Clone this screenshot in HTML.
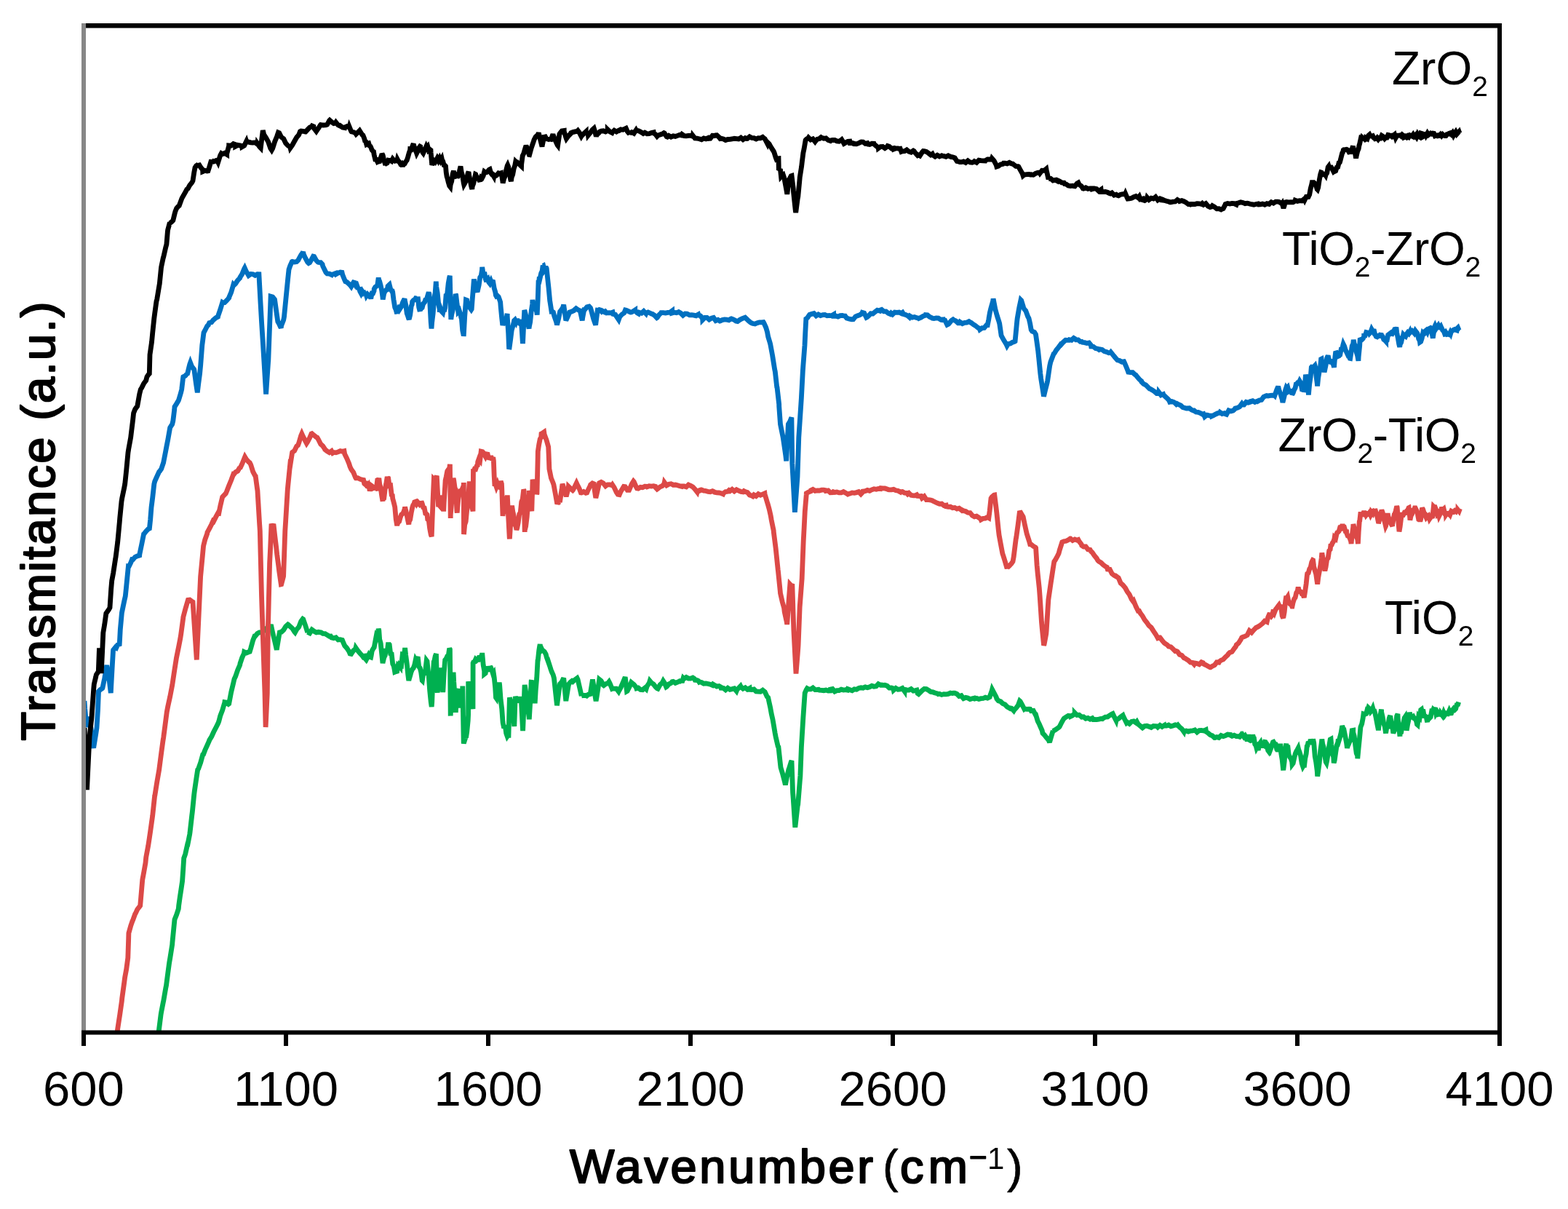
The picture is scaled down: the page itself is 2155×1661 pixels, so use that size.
<!DOCTYPE html>
<html><head><meta charset="utf-8"><style>html,body{margin:0;padding:0;background:#fff;}svg{display:block;}</style></head>
<body><svg width="2155" height="1661" viewBox="0 0 2155 1661">
<rect width="2155" height="1661" fill="#fff"/>
<g clip-path="url(#pc)">
<polyline points="218.0,1419.0 218.7,1413.0 221.1,1393.9 221.7,1390.3 224.3,1377.0 224.7,1375.3 227.7,1357.9 228.5,1353.9 230.7,1337.1 232.7,1322.3 233.7,1316.7 236.7,1297.7 236.9,1294.9 239.7,1266.3 240.0,1263.3 242.7,1256.5 245.3,1248.5 245.7,1244.0 247.4,1231.7 248.7,1223.4 250.6,1210.6 251.7,1194.7 252.7,1179.0 254.7,1173.3 257.7,1160.0 258.0,1160.0 260.7,1146.3 261.1,1143.2 263.7,1120.5 264.3,1115.8 266.7,1091.8 267.4,1086.3 269.7,1070.6 271.7,1057.5 272.7,1056.2 275.7,1047.7 278.7,1036.8 279.6,1036.3 281.7,1030.7 284.7,1024.1 287.6,1017.6 287.7,1016.9 290.7,1012.2 293.7,1005.5 296.7,999.7 299.7,993.9 300.8,991.0 302.7,983.6 305.7,975.7 308.7,965.4 308.8,964.8 311.7,965.3 314.0,967.4 314.7,966.9 317.7,950.9 320.7,938.5 322.0,932.8 323.7,929.3 326.7,920.4 329.7,913.6 330.0,911.6 332.7,903.6 335.3,898.0 335.7,895.7 338.7,897.0 341.7,895.8 343.2,895.3 344.7,890.5 347.7,879.7 349.9,874.1 350.7,874.1 353.7,870.4 356.5,868.8 356.7,868.8 359.7,868.8 362.7,866.6 365.7,863.6 368.7,862.0 371.7,859.9 372.4,858.2 374.7,869.1 377.7,881.3 380.3,892.7 380.7,890.0 383.7,872.0 384.3,868.8 386.7,868.3 389.7,865.5 392.7,860.6 395.7,857.9 396.2,858.2 398.7,860.7 401.7,863.2 404.7,867.9 405.5,868.8 407.7,864.8 410.7,861.4 413.7,853.6 416.1,850.3 416.7,850.7 419.7,859.2 422.7,868.8 422.7,868.4 425.7,869.9 428.7,865.1 431.7,867.3 434.7,868.9 437.7,868.3 440.7,868.8 441.3,868.8 443.7,870.3 446.7,870.5 449.7,872.3 452.7,874.2 454.5,874.1 455.7,876.0 458.7,876.7 461.7,875.9 464.7,879.0 467.7,878.7 470.4,879.4 470.7,880.2 473.7,887.1 476.7,890.4 479.7,895.0 481.0,898.0 482.7,898.4 485.7,893.8 488.7,891.3 489.0,890.0 491.7,893.9 494.7,897.5 497.7,900.6 499.6,903.3 500.7,903.2 502.2,905.0 503.7,898.4 505.2,902.8 506.7,899.8 508.2,902.3 509.7,902.9 510.2,900.6 511.2,894.4 512.7,891.4 514.2,889.3 515.7,881.3 517.2,873.5 518.7,875.5 520.2,864.0 520.8,866.2 521.7,878.4 523.2,883.9 524.7,898.7 526.0,911.2 526.2,910.0 527.7,903.6 529.2,900.5 530.7,891.2 532.2,895.1 533.7,882.7 534.0,884.7 535.2,885.7 536.7,898.0 538.2,898.5 539.7,912.1 541.2,915.1 542.0,919.2 542.7,923.3 544.2,922.7 545.7,922.3 547.2,913.8 548.7,914.9 550.0,916.5 550.2,912.8 551.7,913.7 553.2,899.2 554.7,899.7 556.2,894.4 556.6,890.0 557.7,900.1 559.2,911.3 560.7,926.7 561.8,935.0 562.2,933.2 563.7,928.4 565.2,922.9 566.7,919.4 568.2,917.9 569.7,913.6 571.2,906.6 572.7,909.3 573.8,903.3 574.2,902.5 575.7,916.0 577.2,917.7 578.7,923.7 580.2,934.8 580.4,935.0 581.7,926.1 583.2,925.4 584.7,921.0 586.2,907.5 587.0,908.6 587.7,915.7 589.2,928.6 590.7,949.2 592.2,964.1 593.2,971.0 593.7,964.8 595.2,925.9 596.3,907.8 596.7,908.8 598.2,901.6 599.5,898.4 599.7,907.8 601.0,950.4 601.2,951.2 602.7,942.9 604.2,926.9 605.7,921.4 605.8,917.3 607.2,933.0 608.7,950.9 608.9,948.9 610.2,924.7 611.3,911.0 611.7,906.6 613.2,905.0 614.7,901.7 616.2,901.1 617.7,890.7 618.4,892.1 619.2,983.6 619.2,982.6 620.7,959.5 622.2,934.4 623.1,923.6 623.7,936.5 625.2,957.7 626.3,978.8 626.7,971.6 628.2,960.1 629.4,947.3 629.7,946.7 631.2,958.2 632.6,972.5 632.7,969.6 634.2,955.6 635.7,946.9 635.8,942.6 637.2,1020.0 637.3,1021.4 638.7,1016.7 640.2,1012.3 640.5,1013.6 641.7,1005.6 643.2,990.2 643.6,982.0 643.7,936.2 644.7,943.0 646.2,951.6 647.7,963.8 649.2,968.1 650.0,974.1 650.1,911.0 650.7,909.7 652.2,909.2 653.7,905.8 655.2,907.3 656.3,906.3 656.7,908.7 658.2,903.4 659.7,903.3 661.2,903.9 662.6,898.4 662.7,897.0 664.2,913.7 665.7,922.0 665.7,926.0 667.2,924.8 668.7,915.7 670.2,920.3 671.7,920.0 673.2,919.8 673.6,915.7 674.7,917.4 676.2,921.3 677.7,926.3 678.4,925.2 679.2,930.6 680.7,945.5 681.5,958.3 682.2,959.3 683.7,951.0 685.2,945.5 686.2,937.8 686.7,941.7 688.2,961.7 689.7,973.6 691.0,991.5 691.2,993.2 692.7,1000.4 694.2,996.2 695.7,1007.5 697.2,1011.7 698.7,1009.6 698.9,1013.6 700.2,964.6 700.4,958.3 701.7,963.0 703.2,975.3 704.7,980.7 706.2,991.6 706.8,997.8 707.7,971.4 708.3,956.8 709.2,960.6 710.7,962.3 712.2,962.6 713.7,957.9 715.2,962.1 716.2,963.1 716.7,968.0 718.2,997.5 718.6,1004.1 719.7,978.4 721.0,942.6 721.2,941.1 722.7,950.6 724.2,968.8 725.7,974.7 727.2,985.7 727.3,988.3 728.7,965.0 730.2,935.3 730.4,934.7 731.7,947.5 733.2,949.0 734.7,958.4 735.2,966.2 736.2,949.0 737.7,931.4 739.1,906.3 739.2,908.1 740.7,894.0 741.5,888.9 742.2,885.2 743.7,894.0 745.1,892.7 745.2,892.9 748.2,895.2 750.2,898.8 751.2,902.8 754.2,911.2 754.3,911.0 757.2,920.1 758.4,923.3 760.2,927.1 761.4,931.5 763.2,948.2 765.5,969.2 766.2,963.9 769.2,941.7 769.6,939.6 772.2,936.8 774.7,931.5 775.2,936.4 777.8,963.1 778.2,960.3 781.2,942.1 781.9,939.6 784.2,936.9 786.0,935.5 787.2,936.5 790.2,933.8 793.2,931.6 794.1,933.5 796.2,942.7 799.2,956.0 799.2,955.9 802.2,955.4 805.2,955.5 806.4,956.0 808.2,954.4 811.2,953.6 811.5,951.9 814.2,935.4 814.5,933.5 817.2,951.8 819.1,963.1 820.2,956.8 823.2,937.2 823.7,933.5 826.2,935.5 829.2,941.2 829.8,941.7 832.2,939.8 835.2,938.8 837.0,936.6 838.2,938.9 841.2,946.2 842.1,945.8 844.2,946.2 847.2,946.1 850.2,950.0 850.3,949.8 853.2,944.4 856.2,937.5 859.2,930.4 859.4,931.5 861.5,949.8 862.2,949.4 865.2,943.3 867.6,937.6 868.2,938.1 871.2,940.5 874.2,944.1 874.8,945.8 877.2,945.1 880.2,947.4 883.2,947.7 886.2,945.2 888.0,946.8 889.2,943.0 892.2,938.4 893.1,935.5 895.2,938.0 898.2,940.1 901.2,943.9 903.3,945.8 904.2,946.2 907.2,940.6 910.2,938.1 911.5,935.5 913.2,938.1 915.6,943.7 916.2,943.3 919.2,939.9 922.2,938.5 923.8,936.6 925.2,936.3 928.2,938.4 931.2,937.2 934.2,935.7 937.0,936.6 937.2,937.9 939.1,931.5 940.2,932.5 943.2,930.5 946.2,932.1 949.2,932.2 952.2,931.0 954.4,932.5 955.2,934.3 958.2,934.6 960.0,935.5 961.0,937.1 961.2,937.0 964.2,937.5 967.2,939.2 970.2,938.9 973.2,939.5 976.2,940.2 979.2,941.5 980.0,940.2 982.2,941.5 985.2,943.1 988.2,942.5 991.0,944.2 991.2,945.3 994.2,945.4 997.2,947.8 1000.2,945.2 1003.2,947.3 1006.2,946.6 1009.2,945.8 1012.2,949.5 1013.1,947.3 1015.2,945.4 1017.8,942.6 1018.2,943.4 1021.2,946.2 1024.2,944.7 1027.2,947.2 1030.2,945.6 1030.4,947.3 1033.2,947.6 1036.2,947.0 1039.2,950.0 1042.2,950.1 1045.2,950.3 1048.2,948.2 1051.0,950.5 1051.2,950.6 1054.2,956.9 1055.7,958.4 1057.2,965.4 1058.8,972.6 1060.2,980.5 1062.0,988.4 1063.2,995.3 1065.2,1007.3 1066.2,1012.5 1069.2,1025.4 1069.9,1026.2 1072.2,1047.4 1073.0,1054.6 1075.2,1061.7 1078.2,1073.1 1079.4,1078.3 1081.2,1069.1 1084.1,1056.2 1084.2,1056.7 1087.2,1046.9 1088.0,1045.2 1089.6,1089.3 1090.2,1096.9 1092.8,1136.7 1093.2,1133.5 1096.2,1107.1 1096.7,1105.1 1099.2,1074.1 1099.9,1065.7 1101.4,1026.2 1102.2,1013.1 1103.8,986.8 1105.2,966.3 1106.2,952.1 1108.2,947.5 1109.3,945.8 1111.2,946.8 1114.2,946.8 1117.2,945.0 1120.2,947.6 1123.2,947.5 1125.1,947.3 1126.2,948.2 1129.2,948.3 1132.2,948.7 1135.2,948.1 1138.2,949.0 1140.9,948.9 1141.2,947.1 1144.2,946.5 1147.2,950.0 1150.2,948.6 1153.2,948.6 1156.2,947.2 1159.2,948.0 1162.2,947.6 1164.6,948.1 1165.2,946.6 1168.2,947.7 1171.2,948.7 1174.2,946.9 1177.2,947.3 1180.2,945.4 1183.2,944.8 1186.2,945.2 1188.2,944.2 1189.2,943.9 1192.2,944.7 1195.2,943.8 1198.2,942.2 1201.2,943.3 1204.2,942.9 1207.2,939.7 1210.2,941.2 1211.9,941.0 1213.2,941.3 1216.2,941.2 1219.2,942.2 1222.2,945.1 1225.2,945.0 1227.7,945.8 1228.2,948.1 1231.2,945.5 1234.2,947.3 1237.2,946.9 1240.2,945.5 1243.2,949.7 1243.4,947.3 1246.2,947.9 1249.2,948.1 1252.2,946.6 1255.2,949.1 1258.2,948.6 1260.0,948.1 1261.2,952.6 1262.6,953.6 1264.2,952.0 1267.2,948.8 1270.2,946.5 1270.5,946.5 1273.2,946.7 1276.2,948.4 1279.2,950.4 1282.2,950.9 1285.2,951.9 1288.2,952.8 1289.4,953.6 1291.2,953.2 1294.2,954.5 1297.2,953.6 1300.2,953.8 1303.2,953.4 1306.2,952.1 1309.2,952.5 1310.0,952.1 1312.2,952.2 1315.2,953.3 1318.2,956.5 1321.2,955.7 1322.6,957.6 1324.2,959.6 1327.2,958.3 1330.2,959.0 1333.2,960.6 1336.2,959.8 1339.2,959.1 1339.9,960.0 1342.2,959.4 1345.2,960.5 1348.2,959.7 1351.2,959.5 1354.2,958.2 1357.2,959.1 1360.2,957.7 1360.4,956.8 1363.2,948.8 1363.6,947.3 1366.2,952.2 1369.2,957.7 1369.9,960.0 1372.2,962.7 1375.2,963.7 1376.2,964.7 1378.2,966.5 1381.2,967.8 1384.2,971.0 1387.2,972.8 1387.3,972.6 1390.2,973.2 1393.2,976.4 1393.6,975.7 1396.2,973.0 1399.2,969.2 1401.5,963.1 1402.2,963.7 1405.2,969.2 1407.8,974.2 1408.2,973.9 1411.2,974.4 1414.2,974.1 1415.7,974.2 1417.2,976.6 1420.2,976.4 1423.2,982.0 1423.6,982.0 1426.2,990.7 1428.3,994.7 1429.2,996.8 1432.2,1003.6 1433.0,1007.3 1435.2,1009.5 1438.2,1013.3 1441.2,1016.8 1442.5,1019.9 1444.2,1013.9 1447.2,1004.1 1447.2,1004.5 1450.2,1002.8 1453.2,1000.7 1455.1,999.4 1456.2,998.2 1459.2,992.3 1461.4,988.4 1462.2,987.1 1465.2,985.0 1468.2,983.2 1470.9,983.6 1471.2,984.3 1474.2,982.8 1477.2,980.5 1477.2,979.4 1480.2,982.5 1483.2,982.2 1486.2,984.7 1486.7,985.2 1489.2,984.8 1492.2,987.2 1495.2,986.4 1498.2,988.2 1501.2,986.8 1502.4,988.4 1504.2,988.3 1507.2,988.6 1510.2,988.1 1513.2,987.4 1515.1,987.6 1516.2,986.7 1519.2,985.0 1522.2,984.9 1525.2,982.8 1528.2,981.0 1529.3,980.5 1531.2,984.4 1534.0,989.9 1534.2,989.0 1537.2,987.5 1540.2,984.9 1543.2,982.8 1543.5,983.6 1546.2,989.1 1548.2,993.1 1549.2,992.2 1552.2,994.3 1555.2,991.4 1558.2,990.9 1561.2,992.9 1562.4,991.5 1564.2,994.8 1567.2,997.4 1568.7,998.6 1570.2,999.9 1573.2,997.5 1576.2,997.2 1579.2,998.3 1582.2,999.4 1585.2,997.5 1588.2,997.7 1590.0,997.8 1591.2,999.0 1594.2,996.4 1597.2,998.4 1600.2,996.5 1600.4,997.2 1603.2,997.2 1606.2,996.0 1609.2,997.8 1612.2,996.9 1615.2,995.9 1618.2,996.6 1618.8,996.1 1621.2,999.0 1624.2,1001.3 1627.0,1005.3 1627.2,1004.5 1630.2,1004.0 1633.2,1005.2 1636.2,1004.1 1639.2,1003.8 1641.2,1003.3 1642.2,1002.9 1645.2,1005.9 1648.2,1003.6 1651.2,1003.5 1654.2,1004.0 1657.2,1002.7 1657.6,1005.3 1660.2,1006.9 1663.2,1009.6 1666.2,1010.8 1669.2,1013.5 1669.8,1013.5 1672.2,1012.6 1675.2,1013.4 1678.2,1010.5 1681.2,1011.7 1684.2,1010.6 1687.2,1009.1 1690.2,1009.4 1690.2,1009.7 1693.2,1011.3 1696.2,1010.2 1699.2,1011.6 1702.2,1011.7 1703.7,1012.2 1705.2,1010.3 1706.6,1013.5 1706.7,1012.8 1708.2,1010.2 1709.7,1012.4 1711.2,1010.9 1712.7,1013.5 1714.2,1018.0 1715.7,1009.4 1717.2,1016.7 1718.7,1017.6 1720.2,1017.1 1721.7,1009.7 1722.9,1013.5 1723.2,1012.6 1724.7,1022.5 1726.2,1024.6 1727.0,1027.8 1727.7,1026.6 1729.2,1030.7 1730.7,1022.3 1732.2,1020.3 1733.7,1027.1 1735.2,1022.2 1736.7,1023.5 1738.2,1019.4 1739.2,1019.6 1739.7,1020.6 1741.2,1025.3 1742.7,1031.1 1743.3,1031.9 1744.2,1028.0 1745.7,1030.7 1747.2,1026.6 1748.7,1021.7 1749.5,1019.6 1750.2,1019.3 1751.7,1022.0 1753.2,1022.4 1754.7,1029.2 1755.6,1029.8 1756.2,1032.6 1757.7,1027.0 1759.2,1026.4 1759.7,1021.7 1760.7,1034.8 1762.2,1043.9 1763.7,1058.4 1763.7,1058.3 1765.2,1046.1 1766.7,1027.1 1767.8,1021.7 1768.2,1026.4 1769.7,1023.9 1771.2,1037.1 1772.7,1040.1 1774.2,1042.1 1775.7,1046.8 1776.0,1050.2 1777.2,1048.6 1778.7,1041.7 1780.2,1035.5 1781.7,1032.2 1783.2,1029.7 1784.2,1027.8 1784.7,1029.9 1786.2,1033.6 1787.7,1038.9 1789.2,1048.7 1790.7,1053.1 1792.2,1050.6 1792.3,1054.3 1793.7,1042.3 1795.2,1035.5 1796.4,1023.7 1796.7,1025.7 1798.2,1018.9 1799.7,1022.6 1801.2,1016.1 1802.7,1019.9 1804.2,1020.2 1804.6,1015.5 1805.7,1020.4 1807.2,1039.0 1808.7,1047.0 1810.2,1058.7 1810.7,1066.6 1811.7,1059.6 1813.2,1048.5 1814.7,1031.4 1816.2,1021.0 1816.8,1015.5 1817.7,1021.9 1819.2,1026.8 1820.7,1037.6 1822.2,1046.9 1823.0,1048.2 1823.7,1045.0 1825.2,1035.6 1826.7,1024.8 1828.2,1016.0 1829.1,1015.5 1829.7,1022.6 1831.2,1035.7 1832.7,1039.9 1833.2,1048.2 1834.2,1044.6 1835.7,1034.0 1837.2,1023.9 1838.7,1020.3 1839.3,1015.5 1840.2,1017.4 1841.7,1012.6 1843.2,1006.4 1844.7,997.3 1845.4,999.2 1846.2,1007.3 1847.7,1005.8 1849.2,1013.3 1850.7,1021.5 1851.5,1027.8 1852.2,1024.9 1853.7,1021.9 1855.2,1018.2 1856.7,1016.6 1858.2,1003.6 1859.7,1003.3 1859.7,1005.9 1861.2,1011.3 1862.7,1023.6 1864.2,1034.9 1865.7,1038.3 1865.8,1042.1 1867.2,1027.4 1868.7,1012.5 1869.9,999.2 1870.2,998.1 1871.7,994.5 1873.2,986.6 1874.0,980.8 1874.7,981.0 1876.2,981.2 1877.7,980.6 1879.2,974.5 1880.1,974.7 1880.7,972.5 1882.2,974.0 1883.7,977.9 1885.2,976.2 1886.7,973.0 1888.2,978.3 1888.3,974.7 1889.7,979.3 1891.2,986.4 1892.7,994.4 1894.2,1001.8 1894.4,1003.3 1895.7,991.0 1897.2,981.6 1898.5,974.7 1898.7,978.6 1900.2,984.8 1901.7,994.0 1903.2,998.1 1904.6,1007.4 1904.7,1006.4 1906.2,997.3 1907.7,997.6 1909.2,986.9 1910.7,982.9 1910.7,983.5 1912.2,993.0 1913.7,997.4 1914.8,1007.4 1915.2,1006.3 1916.7,1002.9 1918.2,996.3 1919.7,983.7 1921.0,980.8 1921.2,986.8 1922.7,1000.5 1924.0,1011.5 1924.2,1007.9 1925.7,1006.4 1927.2,998.0 1928.7,993.6 1930.2,986.4 1931.2,984.9 1931.7,988.3 1933.2,1003.3 1933.2,1003.7 1934.7,994.7 1936.2,988.1 1937.3,978.8 1937.7,980.5 1939.2,985.5 1940.7,985.3 1942.2,984.3 1943.7,987.1 1945.2,987.5 1946.7,991.4 1947.5,995.1 1948.2,995.7 1949.7,984.1 1951.2,985.8 1952.7,975.4 1953.6,974.7 1954.2,977.5 1955.7,974.8 1957.2,983.6 1958.7,983.9 1960.2,985.3 1961.7,992.2 1961.8,989.0 1963.2,982.8 1964.7,986.6 1966.2,985.1 1967.7,976.9 1969.2,977.0 1970.0,974.7 1970.7,975.3 1972.2,972.4 1973.7,980.6 1975.2,978.4 1976.7,981.3 1978.1,980.8 1978.2,984.2 1979.7,979.3 1981.2,981.4 1982.7,983.4 1984.2,979.0 1985.7,982.4 1987.2,980.2 1988.3,980.8 1988.7,982.9 1990.2,980.0 1991.7,976.6 1993.2,979.9 1994.7,979.8 1996.2,975.6 1997.7,973.7 1998.5,974.7 1999.2,975.2 2000.7,973.7 2002.2,968.2 2003.7,967.7 2004.7,964.5" fill="none" stroke="#00B050" stroke-width="6.8" stroke-linejoin="miter" stroke-miterlimit="3" />
<polyline points="161.0,1419.0 161.7,1413.6 164.7,1394.1 167.4,1375.0 167.7,1371.7 170.7,1350.0 171.6,1343.0 173.7,1331.6 175.8,1316.0 176.7,1289.1 176.9,1282.0 179.7,1272.0 182.0,1265.4 182.7,1264.0 185.7,1255.6 186.3,1254.8 188.7,1249.5 191.7,1245.7 192.7,1244.3 194.7,1221.2 195.8,1208.5 197.7,1198.4 200.0,1185.3 200.7,1178.0 203.7,1161.9 205.3,1151.6 206.7,1142.0 209.5,1122.0 209.7,1120.6 212.7,1092.6 212.7,1093.7 215.7,1074.8 218.7,1057.5 218.7,1057.4 221.7,1034.4 224.0,1017.6 224.7,1013.3 227.7,990.4 229.3,978.0 230.7,970.8 233.7,957.1 236.7,941.5 237.2,938.2 239.7,921.5 242.5,903.7 242.7,902.8 245.7,888.0 247.8,877.2 248.7,871.5 251.7,849.4 251.8,848.0 254.7,836.9 257.7,826.7 258.4,824.3 260.7,824.0 263.7,826.3 265.0,827.0 266.7,852.2 269.7,897.9 270.3,906.4 272.7,855.1 275.6,792.5 275.7,791.2 278.7,759.7 279.6,750.0 281.7,741.6 284.7,733.2 284.9,731.5 287.7,726.3 290.7,720.5 292.9,715.6 293.7,716.1 296.7,710.2 299.7,704.7 300.8,705.0 302.7,695.4 305.7,682.8 306.0,682.4 308.7,679.6 310.3,678.0 311.7,674.8 314.7,667.1 317.7,659.8 320.7,651.8 321.2,652.0 323.7,648.7 326.7,647.1 329.7,642.1 329.8,643.4 332.7,637.4 335.7,629.9 336.6,627.7 338.7,631.2 341.7,634.6 343.2,635.6 344.7,638.5 347.7,648.1 350.7,653.9 351.2,654.2 353.7,672.8 353.9,673.5 356.7,720.4 357.3,729.2 359.5,818.5 359.7,824.8 361.7,885.4 362.7,914.9 364.0,952.3 365.1,999.0 365.7,986.9 367.3,952.3 368.4,863.0 368.7,851.3 370.6,773.8 371.7,751.1 372.9,722.5 374.7,722.3 376.2,722.5 377.7,735.8 379.6,751.5 380.7,761.7 382.9,778.3 383.7,784.8 386.3,802.8 386.7,802.7 389.6,791.7 389.7,789.4 391.8,729.2 392.7,714.9 395.2,673.5 395.7,667.9 398.5,640.0 398.7,640.3 401.5,622.4 401.7,621.4 404.7,619.2 407.7,613.0 409.5,611.8 410.7,608.7 413.7,598.5 414.8,595.9 416.7,600.1 419.7,605.8 421.4,609.1 422.7,607.1 425.7,601.4 428.0,595.9 428.7,595.6 431.7,598.2 434.7,600.6 436.0,601.2 437.7,604.1 440.7,610.1 443.7,612.8 446.6,617.1 446.7,617.6 449.7,620.0 452.7,621.8 455.7,619.7 457.2,622.4 458.7,621.5 461.7,621.9 464.7,620.9 467.7,619.6 470.7,620.3 473.0,619.7 473.7,623.7 476.7,629.8 479.7,637.0 481.0,641.0 482.7,644.9 485.7,648.9 488.7,656.4 489.0,656.8 491.7,656.6 494.7,658.2 497.7,659.2 499.6,659.5 500.7,664.3 502.2,665.6 503.7,661.3 505.2,670.1 506.7,667.3 507.5,670.0 508.2,674.6 509.7,666.7 511.2,667.8 512.7,670.8 514.2,670.1 515.5,672.7 515.7,671.6 517.2,671.4 518.7,659.7 520.2,659.3 520.8,656.8 521.7,664.9 523.2,670.5 524.7,681.1 526.0,688.6 526.2,685.8 527.7,684.6 529.2,672.0 530.7,664.7 532.2,655.1 532.7,656.8 533.7,657.2 535.2,667.4 536.7,667.1 538.2,680.0 539.3,680.7 539.7,685.0 541.2,690.4 542.7,696.5 544.2,713.2 545.7,722.1 546.0,720.4 547.2,717.7 548.7,716.3 550.2,710.9 551.7,707.0 553.2,705.9 554.7,703.6 556.2,699.0 556.6,696.6 557.7,701.2 559.2,707.9 560.7,715.6 561.8,720.4 562.2,716.7 563.7,713.9 565.2,704.6 566.7,697.2 568.2,692.6 568.5,694.0 569.7,689.9 571.2,689.3 572.7,692.3 574.2,690.1 575.7,691.8 577.2,693.6 578.7,692.8 579.0,688.6 580.2,691.9 581.7,697.1 583.2,697.8 584.7,705.4 586.2,706.2 587.0,707.2 587.7,713.3 589.2,714.4 590.7,726.5 592.2,734.4 593.2,737.2 593.7,724.1 595.2,683.7 596.3,658.4 596.7,658.8 598.2,656.5 599.7,655.5 600.3,653.6 601.2,671.4 602.6,696.2 602.7,692.9 604.2,694.6 605.7,687.6 607.2,684.9 607.4,680.4 608.7,689.1 609.7,702.5 610.2,690.7 611.7,667.3 612.1,659.9 613.2,655.2 614.7,647.4 616.2,645.1 617.7,643.4 618.4,637.8 619.2,712.0 619.2,707.5 620.7,690.5 622.2,667.1 623.1,656.8 623.7,659.9 625.2,670.6 626.3,672.6 626.7,675.8 627.9,702.5 628.2,704.5 629.7,686.7 631.2,678.1 631.8,677.3 632.7,674.5 634.2,674.1 635.7,670.9 637.2,667.1 637.3,663.1 637.5,734.1 638.7,720.9 640.2,716.6 641.7,700.8 642.1,699.4 643.2,689.5 644.7,668.5 645.2,661.5 646.2,672.6 647.7,686.7 649.2,698.1 650.0,702.5 650.5,644.2 650.7,647.6 652.2,644.3 653.7,644.6 655.2,640.2 656.3,639.4 656.7,634.6 658.2,630.4 659.7,632.4 661.2,620.2 662.6,620.5 662.7,621.1 664.2,621.9 665.7,624.5 667.2,627.2 668.7,623.9 670.2,624.2 671.7,631.1 672.0,626.8 673.2,631.3 674.7,626.4 676.2,632.1 677.7,628.2 678.4,633.1 679.2,654.2 680.0,667.8 680.7,664.3 682.2,668.8 683.7,664.9 685.2,669.1 686.7,669.5 688.2,661.1 689.4,664.7 689.7,670.4 691.0,708.8 691.2,706.8 692.7,700.9 694.2,695.3 695.7,686.2 697.2,682.0 697.3,680.4 698.7,710.4 700.2,738.8 700.4,740.4 701.7,719.5 703.2,697.4 703.6,694.6 704.7,702.5 706.2,708.9 707.7,720.4 709.2,724.0 709.9,727.8 710.7,725.6 712.2,718.1 713.7,706.4 715.2,704.0 716.2,694.6 716.7,689.5 718.2,685.8 719.7,672.6 720.0,673.3 721.2,731.0 721.2,728.7 722.7,722.9 724.2,710.5 724.8,702.2 725.7,693.6 727.2,678.0 727.2,673.9 728.7,688.8 730.2,698.4 730.8,702.2 731.7,672.6 732.0,658.8 733.2,663.4 734.7,671.3 736.2,670.2 737.7,678.7 738.0,678.0 739.2,627.7 739.3,620.2 740.7,610.8 742.2,603.3 743.7,600.6 744.0,596.0 745.2,595.4 747.7,593.7 748.2,597.0 751.2,605.1 753.7,614.0 754.2,625.5 754.9,644.3 757.2,655.6 757.3,656.4 760.2,663.6 761.0,666.0 763.2,678.0 765.8,692.5 766.2,691.5 769.2,689.5 769.4,690.0 772.2,671.2 773.0,664.8 775.2,671.4 777.8,680.5 778.2,682.1 781.2,670.5 781.4,668.4 784.2,671.1 787.2,673.6 787.5,673.3 790.2,667.9 792.3,663.6 793.2,665.5 796.2,671.4 798.3,676.9 799.2,677.0 802.2,675.5 805.2,677.3 806.7,676.9 808.2,673.3 811.2,667.2 811.6,666.0 814.2,663.9 816.4,664.8 817.2,673.5 818.8,684.1 820.2,678.5 823.2,665.2 823.6,663.6 826.2,662.4 829.2,664.0 832.2,667.8 834.5,666.0 835.2,665.8 838.2,665.9 841.2,666.7 841.7,666.0 844.2,669.8 847.2,676.2 850.1,680.5 850.2,682.1 853.2,675.2 856.2,670.2 857.3,668.4 859.2,668.6 862.2,673.3 864.6,673.3 865.2,672.0 868.2,665.0 870.6,661.2 871.2,661.9 874.2,668.7 875.4,670.8 877.2,671.1 880.2,669.3 883.2,669.8 886.2,668.3 888.7,668.4 889.2,668.8 892.2,667.7 895.2,668.1 898.2,667.7 900.7,668.4 901.2,670.0 903.1,672.0 904.2,671.2 907.2,668.9 910.2,667.6 912.8,664.8 913.2,662.8 916.2,666.9 919.2,665.2 922.2,664.7 924.8,666.0 925.2,666.3 928.2,666.0 931.2,666.8 934.2,667.8 936.9,668.4 937.2,667.9 940.2,667.9 943.2,668.9 946.2,666.0 948.9,667.2 949.2,667.4 952.2,668.9 955.2,672.1 958.2,676.0 958.6,674.5 960.9,673.7 961.2,674.4 964.2,673.0 967.2,674.1 970.2,674.5 973.2,675.5 976.2,675.7 979.2,674.6 981.4,675.7 982.2,676.4 985.2,676.9 988.2,677.0 991.2,677.7 993.7,678.8 994.2,677.6 997.2,675.5 1000.2,675.3 1001.9,673.7 1003.2,674.6 1006.2,672.4 1009.2,674.9 1012.2,672.7 1015.2,674.2 1018.2,675.4 1021.2,675.9 1022.4,674.7 1024.2,675.6 1027.2,676.4 1030.2,680.0 1033.2,681.1 1034.6,681.9 1036.2,679.9 1039.2,681.5 1042.2,678.7 1045.2,680.3 1048.2,679.0 1051.0,677.8 1051.2,679.1 1054.2,689.3 1055.1,692.1 1057.2,699.6 1059.2,708.5 1060.2,714.4 1063.2,729.0 1063.3,731.0 1066.2,753.6 1066.4,755.6 1069.2,782.7 1069.4,784.2 1072.2,811.5 1072.5,815.0 1075.2,826.8 1077.6,835.4 1078.2,840.6 1081.2,854.3 1081.7,857.9 1084.2,823.8 1085.8,802.7 1087.2,804.2 1088.9,804.7 1090.2,845.6 1090.9,866.1 1093.2,910.3 1094.0,925.5 1096.2,898.8 1097.1,886.6 1099.1,835.4 1099.2,833.4 1102.2,794.5 1102.2,794.2 1104.2,743.3 1105.2,724.4 1106.3,702.4 1108.2,680.0 1108.3,677.8 1111.2,676.0 1114.2,674.9 1114.5,673.7 1117.2,672.4 1120.2,674.4 1123.2,673.8 1126.2,674.0 1129.2,673.2 1132.2,673.1 1134.9,673.7 1135.2,674.5 1138.2,674.0 1141.2,676.8 1144.2,676.7 1145.2,675.7 1147.2,676.4 1150.2,675.9 1153.2,676.9 1156.2,676.8 1159.2,675.6 1162.2,677.2 1165.2,679.0 1165.6,678.8 1168.2,678.1 1171.2,676.9 1174.2,677.3 1177.2,676.6 1180.2,675.6 1183.2,678.8 1186.1,675.7 1186.2,675.0 1189.2,674.7 1192.2,673.4 1195.2,674.3 1198.2,672.8 1201.2,671.7 1204.2,672.3 1207.2,671.4 1210.2,671.7 1210.7,670.6 1213.2,670.9 1216.2,671.0 1219.2,671.9 1220.9,672.7 1222.2,672.9 1225.2,672.9 1228.2,672.4 1231.2,673.8 1234.2,674.2 1237.2,675.9 1237.3,675.7 1240.2,675.5 1243.2,677.2 1246.2,677.4 1247.5,678.8 1249.2,677.5 1252.2,680.4 1255.2,680.8 1258.2,680.6 1260.0,679.8 1261.2,681.5 1264.2,681.7 1265.8,681.6 1267.2,684.3 1270.2,682.0 1273.2,686.7 1276.2,686.7 1279.2,687.0 1281.6,687.9 1282.2,688.3 1285.2,689.7 1288.2,691.2 1291.2,692.3 1294.2,692.1 1297.2,694.5 1300.2,694.1 1300.5,695.8 1303.2,696.3 1306.2,696.2 1309.2,697.8 1312.2,697.4 1315.2,699.1 1318.2,698.3 1321.0,700.5 1321.2,700.1 1324.2,701.8 1327.2,702.5 1330.2,704.3 1333.2,704.6 1335.2,706.8 1336.2,708.2 1339.2,709.9 1342.2,709.1 1345.2,711.1 1347.8,713.1 1348.2,714.0 1351.2,712.3 1354.2,712.1 1357.2,710.5 1358.9,711.5 1360.2,701.7 1362.0,684.7 1363.2,682.7 1366.2,680.1 1366.8,680.0 1369.2,699.0 1369.9,705.2 1372.2,727.7 1373.1,735.2 1375.2,746.7 1377.8,760.4 1378.2,761.5 1381.2,771.0 1384.1,781.0 1384.2,780.1 1387.2,777.3 1390.2,774.0 1392.0,771.5 1393.2,764.9 1396.2,740.9 1396.7,738.4 1399.2,720.4 1401.5,702.1 1402.2,703.3 1405.2,708.5 1406.2,710.0 1408.2,719.9 1410.9,732.0 1411.2,733.3 1414.2,742.6 1415.7,747.8 1417.2,748.0 1420.2,750.4 1423.2,752.0 1423.6,752.6 1425.1,776.2 1426.2,788.1 1428.3,807.8 1429.2,819.9 1431.5,855.1 1432.2,862.6 1434.6,886.7 1435.2,884.6 1437.8,870.9 1438.2,866.1 1440.9,823.6 1441.2,821.7 1444.2,800.9 1445.6,792.0 1447.2,781.5 1448.8,771.5 1450.2,769.6 1453.2,764.1 1455.1,760.4 1456.2,756.0 1459.2,746.6 1459.8,744.7 1462.2,743.7 1465.2,743.3 1468.2,741.9 1470.9,739.9 1471.2,739.9 1474.2,742.5 1477.2,741.0 1480.2,742.1 1481.9,741.5 1483.2,743.9 1486.2,747.8 1486.7,749.4 1489.2,751.0 1492.2,751.0 1495.2,754.9 1498.2,755.3 1499.3,757.3 1501.2,759.1 1504.2,763.4 1507.2,767.0 1508.8,769.9 1510.2,771.3 1513.2,773.0 1516.2,776.0 1519.2,778.2 1521.4,779.4 1522.2,782.0 1525.2,782.3 1528.2,788.1 1531.2,790.4 1534.0,792.0 1534.2,791.8 1537.2,794.0 1540.2,801.1 1543.2,803.7 1546.2,807.2 1546.6,807.8 1549.2,812.7 1552.2,816.8 1555.2,823.3 1557.7,826.7 1558.2,826.0 1561.2,833.3 1564.2,839.3 1565.6,839.3 1567.2,842.4 1570.2,846.3 1573.2,851.6 1576.2,855.2 1578.2,858.3 1579.2,859.6 1582.2,862.1 1585.2,866.9 1588.2,871.2 1591.2,876.5 1592.2,876.0 1594.2,876.0 1597.2,879.9 1600.2,883.4 1603.2,885.3 1604.5,886.2 1606.2,888.1 1609.2,888.8 1612.2,891.6 1615.2,894.6 1616.7,894.4 1618.2,895.1 1621.2,899.3 1624.2,900.4 1627.2,903.9 1629.0,904.6 1630.2,905.5 1633.2,907.2 1636.2,910.1 1639.2,910.5 1641.2,912.7 1642.2,911.1 1645.2,911.6 1648.2,912.7 1651.2,909.8 1653.5,910.7 1654.2,912.2 1657.2,913.6 1660.2,915.2 1663.2,916.8 1663.7,916.8 1666.2,915.2 1669.2,913.8 1672.2,909.9 1675.2,910.2 1676.0,908.7 1678.2,907.1 1681.2,905.8 1684.2,902.6 1687.2,900.0 1688.2,898.5 1690.2,896.4 1693.2,895.4 1696.2,891.1 1698.4,888.3 1699.2,886.1 1702.2,883.5 1705.2,878.9 1706.6,876.0 1708.2,875.2 1711.2,874.2 1714.2,872.6 1717.2,866.5 1718.8,867.8 1720.2,869.0 1723.2,865.4 1726.2,862.3 1729.2,860.9 1731.1,859.7 1732.2,858.9 1735.2,856.6 1738.2,853.2 1739.2,853.5 1741.2,854.4 1742.7,848.0 1744.2,844.6 1745.7,844.7 1747.2,846.6 1748.7,844.7 1749.5,841.3 1750.2,837.6 1751.7,841.2 1753.2,837.3 1754.7,835.5 1756.2,833.2 1757.7,831.3 1759.2,834.7 1759.7,831.1 1760.7,833.8 1762.2,846.0 1763.7,849.5 1763.7,849.1 1765.2,840.7 1766.7,825.9 1767.8,818.8 1768.2,822.4 1769.7,820.0 1771.2,827.7 1772.7,829.6 1774.2,829.8 1775.7,833.1 1776.0,833.1 1777.2,827.3 1778.7,822.9 1780.2,820.9 1781.7,814.3 1783.2,812.0 1784.2,806.6 1784.7,809.0 1786.2,812.4 1787.7,813.0 1789.2,815.9 1790.7,816.4 1792.2,820.6 1792.3,820.9 1793.7,812.2 1795.2,801.9 1796.4,790.2 1796.7,788.2 1798.2,787.1 1799.7,781.6 1801.2,779.3 1802.7,772.5 1804.2,769.6 1804.6,769.8 1805.7,778.3 1807.2,784.0 1808.7,788.7 1810.2,799.6 1810.7,802.5 1811.7,794.0 1813.2,785.7 1814.7,777.6 1816.2,766.6 1816.8,759.6 1817.7,764.4 1819.2,771.7 1820.7,783.4 1820.9,784.1 1822.2,778.7 1823.7,768.6 1825.2,766.8 1826.7,756.6 1828.2,754.8 1829.1,747.4 1829.7,749.9 1831.2,746.2 1832.7,743.9 1833.9,740.5 1834.2,738.4 1835.7,739.8 1837.2,733.0 1838.6,730.3 1838.7,731.3 1840.2,729.7 1841.7,724.4 1843.2,724.1 1844.7,722.0 1845.1,720.1 1846.2,725.6 1847.7,725.1 1849.2,730.0 1850.6,730.3 1850.7,732.4 1852.2,736.2 1853.7,736.8 1855.2,739.7 1856.7,744.0 1857.1,747.0 1858.2,735.7 1859.7,724.3 1859.9,720.1 1861.2,725.5 1862.7,730.3 1864.2,737.5 1865.7,740.7 1866.4,747.0 1867.2,731.3 1868.3,716.4 1868.7,715.8 1870.1,703.4 1870.2,705.4 1871.7,706.2 1873.2,706.6 1874.7,702.3 1875.7,705.3 1876.2,703.3 1877.7,707.7 1879.2,705.9 1880.7,706.3 1882.2,704.3 1883.7,707.7 1885.0,705.3 1885.2,703.8 1886.7,705.5 1888.2,701.6 1889.6,700.6 1889.7,699.3 1891.2,704.1 1892.7,709.3 1894.2,716.3 1895.2,716.4 1895.7,714.3 1897.2,706.6 1898.7,701.7 1898.9,700.6 1900.2,704.1 1901.7,712.4 1903.2,717.2 1904.5,722.9 1904.7,722.5 1906.2,712.8 1907.2,705.3 1907.7,708.9 1909.2,712.9 1910.7,717.0 1912.2,720.3 1913.7,722.9 1913.7,720.9 1915.2,712.6 1916.5,705.3 1916.7,706.7 1918.2,702.1 1919.7,695.5 1920.2,696.9 1921.2,709.9 1922.7,727.0 1923.0,730.3 1924.2,723.6 1925.7,711.4 1926.7,707.1 1927.2,707.1 1928.7,707.3 1930.2,704.2 1931.7,704.4 1933.2,702.1 1934.7,700.9 1936.0,697.8 1936.2,697.7 1937.7,711.1 1937.9,714.5 1939.2,708.5 1940.7,706.2 1942.2,700.7 1943.7,700.1 1944.4,697.8 1945.2,697.8 1946.7,700.9 1948.2,705.6 1949.7,713.5 1951.2,714.1 1951.8,716.4 1952.7,713.2 1954.2,700.2 1954.6,697.8 1955.7,699.8 1957.2,704.8 1958.7,706.2 1959.2,709.0 1960.2,711.3 1961.7,709.6 1963.2,708.5 1964.7,713.1 1966.2,710.9 1967.7,710.4 1968.5,711.8 1969.2,706.6 1970.3,696.0 1970.7,696.4 1972.2,696.5 1973.7,700.4 1975.2,706.3 1976.7,704.7 1977.8,709.0 1978.2,708.2 1979.7,705.1 1981.2,698.7 1981.5,696.9 1982.7,700.5 1984.2,699.2 1985.7,705.3 1987.0,705.3 1987.2,707.4 1988.7,705.2 1990.2,705.3 1991.7,706.7 1992.6,705.3 1993.2,706.4 1994.7,702.4 1996.2,703.2 1997.7,703.5 1999.2,701.9 2000.7,702.8 2002.2,698.6 2003.7,703.3 2003.8,700.6 2005.2,702.3 2006.5,698.8" fill="none" stroke="#DC4947" stroke-width="6.8" stroke-linejoin="miter" stroke-miterlimit="3" />
<polyline points="116.0,963.0 116.7,973.7 119.0,999.0 119.7,994.5 122.0,985.0 122.7,988.0 125.0,1000.0 125.7,1005.7 128.7,1028.0 128.7,1027.0 131.7,1008.8 133.0,1000.0 134.5,975.0 134.7,970.0 135.5,950.0 137.7,947.6 140.7,945.6 141.0,945.0 143.7,931.9 146.7,914.4 146.8,914.0 149.5,930.0 149.7,930.8 152.3,952.0 152.7,943.5 154.4,913.0 155.5,894.0 155.7,892.9 158.7,889.3 159.8,890.0 161.7,885.9 164.2,885.0 164.7,876.4 165.3,865.0 167.4,842.0 167.7,840.5 170.7,826.0 172.3,819.0 173.7,805.3 176.3,779.0 176.7,779.2 179.7,773.2 181.5,768.6 182.7,768.7 185.7,765.3 188.7,764.0 191.7,763.1 192.0,760.7 194.7,747.9 197.5,734.0 197.7,733.9 200.7,729.9 203.7,726.8 205.4,726.0 206.7,713.6 208.0,697.0 209.7,683.7 211.8,665.0 212.7,661.4 215.7,654.7 218.7,648.2 219.3,647.7 221.7,644.3 224.7,635.4 224.8,634.7 227.7,619.8 229.0,613.0 230.7,604.4 233.4,589.2 233.7,587.5 236.7,582.8 237.8,578.3 239.7,563.0 240.0,558.8 242.7,554.6 245.3,550.2 245.7,549.2 248.7,539.2 249.7,535.0 251.7,518.2 251.8,517.7 254.7,516.2 257.3,513.3 257.7,513.1 260.7,500.7 261.6,498.2 263.7,503.7 266.7,507.5 267.0,509.0 269.7,528.7 271.3,539.3 272.7,527.6 274.6,513.3 275.7,501.7 277.8,474.3 278.7,467.5 280.0,457.0 281.7,454.0 284.7,448.0 286.5,446.2 287.7,443.5 290.7,442.7 293.0,439.7 293.7,439.2 296.7,436.7 299.5,435.3 299.7,434.0 302.7,425.5 305.7,415.6 306.0,415.8 308.7,415.7 311.7,412.7 314.7,409.3 314.7,408.7 317.7,401.7 320.7,391.4 321.2,392.0 323.7,389.7 326.7,385.1 329.7,382.0 329.8,381.2 332.7,376.6 335.7,369.3 336.3,368.2 338.7,373.6 340.7,376.8 341.7,378.5 344.7,376.4 347.7,376.7 350.7,378.4 353.7,376.7 355.9,376.8 356.7,391.7 358.0,415.8 359.7,445.3 361.3,470.0 362.7,493.2 365.6,541.5 365.7,539.8 368.7,496.2 368.8,496.0 371.7,418.3 372.1,407.2 374.7,407.9 377.5,411.5 377.7,412.7 380.7,434.2 381.8,441.8 383.7,445.2 386.2,450.5 386.7,447.2 389.7,439.6 390.5,435.3 392.7,412.9 395.7,382.7 397.0,370.3 398.7,365.3 401.3,359.5 401.7,359.3 404.7,360.0 407.7,359.5 410.0,357.3 410.7,355.7 413.7,350.3 416.5,346.5 416.7,346.1 417.1,348.9 419.7,354.6 422.7,360.2 424.2,361.6 425.7,360.8 428.7,355.4 430.5,352.1 431.7,352.4 434.7,357.8 436.8,360.0 437.7,360.4 440.7,360.6 443.1,363.1 443.7,365.7 446.7,371.8 447.9,374.2 449.7,376.0 452.7,376.2 455.7,377.5 455.8,377.3 458.7,376.5 461.7,375.4 462.1,376.5 464.7,375.0 467.7,373.9 470.0,374.2 470.7,377.3 473.7,384.7 474.7,386.8 476.7,387.5 479.7,390.3 481.0,391.5 482.7,393.7 484.2,390.9 485.7,388.2 487.2,385.9 487.3,390.0 488.7,392.2 490.2,391.1 491.7,395.4 492.0,397.8 493.2,394.8 494.7,400.3 496.2,403.0 497.7,399.9 498.4,401.0 499.2,399.1 500.7,405.6 502.2,401.1 503.7,406.4 505.2,404.2 506.7,405.6 507.8,408.9 508.2,405.7 509.7,410.3 511.2,402.8 512.7,402.8 514.1,399.4 514.2,397.0 515.7,394.4 517.2,393.4 518.7,391.9 520.2,381.4 520.4,383.6 521.7,386.7 523.2,392.2 524.7,399.1 526.0,408.9 526.2,411.4 527.7,403.4 529.2,399.9 530.7,398.5 532.2,397.9 533.1,393.1 533.7,392.6 535.2,391.2 536.7,397.0 538.2,399.6 538.6,397.8 539.7,401.3 541.0,412.0 541.2,412.8 542.7,422.2 544.2,425.7 545.7,431.0 545.7,430.7 547.2,424.6 548.7,421.7 550.2,421.8 550.4,423.1 551.7,421.1 553.2,416.3 554.7,413.0 556.0,410.5 556.2,411.9 557.7,418.8 559.2,430.4 560.7,434.5 561.5,437.3 562.2,438.8 563.7,432.6 565.2,420.7 566.2,418.4 566.7,414.3 568.2,412.5 569.7,412.1 571.2,409.9 572.7,410.2 574.1,408.9 574.2,407.7 575.7,422.2 577.2,427.8 577.2,426.4 578.7,423.9 580.2,422.8 581.7,417.1 583.2,415.8 583.6,415.2 584.7,412.0 586.2,411.5 587.7,406.6 589.2,401.6 589.9,404.2 590.7,414.0 592.2,442.6 593.0,451.5 593.7,442.6 595.2,430.4 596.7,410.5 598.2,401.6 599.3,386.8 599.7,393.8 601.2,402.4 602.7,417.6 604.1,424.7 604.2,428.7 605.7,424.3 607.2,428.2 608.7,429.8 610.2,423.2 610.4,427.8 611.7,422.9 613.2,403.8 613.5,405.7 614.7,403.3 616.2,388.9 617.7,381.1 618.3,378.9 619.2,418.3 619.8,438.9 620.7,432.3 622.2,426.2 623.7,419.3 625.2,413.9 626.2,404.2 626.7,405.2 628.2,418.4 629.3,424.7 629.7,428.1 631.2,426.4 632.7,431.0 634.0,437.3 634.2,435.5 635.7,454.0 637.2,461.0 637.2,462.0 638.7,434.8 640.2,415.1 640.4,412.0 641.7,412.5 643.2,420.2 644.7,415.8 646.2,423.4 647.7,425.5 648.2,424.7 649.2,411.2 650.7,392.9 651.4,383.6 652.2,388.6 653.7,393.8 655.2,399.1 656.1,401.0 656.7,398.3 658.2,391.6 659.7,381.1 661.2,379.0 662.5,371.0 662.7,366.9 664.2,377.1 665.7,373.9 667.2,383.0 668.7,387.0 668.8,383.6 670.2,382.6 671.7,387.7 673.2,389.6 674.7,386.3 676.2,390.1 676.6,386.8 677.7,387.1 679.2,396.1 680.7,401.1 681.4,405.7 682.2,407.1 683.7,406.4 685.2,407.8 686.7,412.0 687.7,415.2 688.2,421.8 689.7,437.2 690.8,446.8 691.2,445.4 692.7,444.1 694.2,440.4 695.7,439.0 697.2,431.0 697.2,434.4 698.7,457.9 699.5,476.7 700.2,476.8 701.7,466.0 703.2,453.8 704.7,448.6 706.2,442.6 706.6,440.4 707.7,439.4 709.2,442.5 710.7,438.4 712.2,442.8 713.7,444.0 715.2,441.9 716.1,442.0 716.7,445.3 718.2,468.8 718.5,472.0 719.7,446.7 720.8,426.2 721.2,427.4 722.7,433.3 724.2,439.7 725.7,444.8 727.1,451.5 727.2,449.7 728.7,442.2 730.2,427.1 731.7,417.4 731.9,412.0 733.2,419.8 734.7,424.2 736.2,424.5 737.7,428.4 738.2,432.6 739.2,411.7 740.0,387.3 740.7,387.0 741.3,380.5 742.2,382.0 743.7,375.4 745.2,372.1 746.1,364.7 746.3,365.2 746.7,365.0 748.2,370.7 749.7,368.4 751.0,368.4 751.2,368.8 752.7,383.0 754.0,395.0 755.7,413.2 756.0,415.0 758.0,428.0 758.7,427.9 760.4,429.0 761.7,434.0 764.7,442.7 765.5,446.4 767.7,437.6 769.6,428.0 770.7,426.8 773.7,422.3 774.7,418.8 776.7,432.5 777.8,440.2 779.7,436.2 782.7,429.6 782.9,429.0 785.7,428.1 788.7,426.7 789.0,426.0 791.7,423.8 794.7,425.8 797.2,427.0 797.7,428.9 800.2,440.2 800.7,436.7 803.3,422.9 803.7,425.4 806.7,421.8 809.7,421.0 811.5,422.9 812.7,426.9 815.7,438.2 818.6,446.4 818.7,445.8 821.7,422.9 821.7,425.0 824.7,425.8 826.8,428.0 827.7,427.1 830.7,428.8 831.9,428.0 833.7,430.0 836.7,429.6 839.7,429.9 842.1,429.0 842.7,431.5 845.7,432.3 848.7,436.8 850.3,439.2 851.7,435.3 854.7,432.0 857.7,430.0 859.4,426.0 860.7,426.3 863.7,427.6 866.7,429.1 867.6,429.0 869.7,428.0 872.7,426.0 872.7,426.3 875.7,429.8 877.8,431.0 878.7,429.4 881.7,430.3 884.7,427.6 887.7,430.8 888.0,430.0 890.7,428.9 893.7,430.2 895.2,431.0 896.7,431.4 899.7,433.4 902.7,436.6 903.3,436.2 905.7,432.6 908.5,430.0 908.7,429.7 911.7,429.7 914.7,430.1 917.7,429.4 920.7,429.3 923.7,427.1 923.8,430.0 926.7,429.2 929.7,429.8 932.7,428.6 935.7,430.3 938.7,433.3 941.7,430.9 944.2,431.0 944.7,431.3 947.7,432.9 950.7,432.7 953.7,433.1 956.7,433.8 959.7,432.1 960.0,433.1 960.9,433.1 962.7,434.0 965.6,437.8 965.7,439.4 968.7,436.4 971.7,436.4 974.7,439.0 976.7,437.8 977.7,437.2 980.7,436.4 983.7,440.6 986.7,439.4 989.3,441.0 989.7,440.9 992.7,439.6 995.7,439.0 998.7,439.2 1001.7,439.9 1004.7,437.9 1005.1,437.8 1007.7,438.8 1010.7,440.4 1011.4,441.0 1013.7,441.5 1016.7,439.4 1019.7,437.8 1022.7,436.6 1024.0,436.2 1025.7,437.8 1028.7,440.7 1031.7,443.2 1033.5,444.1 1034.7,444.5 1037.7,445.0 1040.7,443.7 1043.7,442.8 1046.7,442.9 1049.2,442.6 1049.7,443.4 1052.7,450.0 1054.5,456.1 1055.7,462.6 1058.1,470.6 1058.7,472.7 1061.7,488.7 1061.7,488.9 1064.7,507.7 1065.3,510.4 1067.7,531.6 1068.0,532.0 1070.7,555.5 1070.7,557.9 1072.5,582.7 1073.7,588.8 1076.1,600.7 1076.7,604.5 1079.7,625.1 1080.7,633.3 1082.7,595.7 1083.4,582.7 1085.7,579.0 1087.9,573.6 1088.7,629.9 1088.8,636.9 1091.7,690.3 1092.4,703.7 1094.7,673.0 1096.0,655.0 1097.7,603.8 1097.8,600.7 1100.7,557.2 1101.4,546.5 1103.3,510.4 1103.7,504.5 1106.0,474.2 1106.7,458.9 1107.8,438.1 1109.7,436.7 1112.3,432.7 1112.7,432.2 1115.7,431.4 1118.7,430.6 1121.7,433.9 1124.7,431.9 1127.7,433.5 1130.4,432.7 1130.7,432.6 1133.7,432.4 1136.7,433.8 1139.7,433.4 1142.7,433.8 1145.7,432.0 1145.8,434.2 1148.7,434.0 1151.7,435.1 1154.7,433.6 1157.7,433.5 1160.7,434.2 1161.6,434.2 1163.7,437.0 1166.7,438.0 1169.7,438.6 1171.0,438.9 1172.7,438.8 1175.7,435.0 1178.7,433.7 1181.7,432.7 1184.7,430.7 1185.2,429.4 1187.7,430.1 1190.7,436.2 1191.5,435.8 1193.7,434.1 1196.7,430.8 1199.7,431.0 1202.7,428.5 1205.7,426.3 1208.7,427.1 1208.9,426.3 1211.7,425.4 1214.7,427.8 1217.7,427.9 1220.7,430.2 1223.7,431.5 1224.7,430.2 1226.7,431.9 1229.7,429.0 1232.7,429.3 1235.7,429.0 1238.7,430.6 1240.4,429.4 1241.7,431.6 1244.7,432.5 1247.7,433.9 1249.9,435.8 1250.7,434.3 1253.7,436.2 1256.7,435.5 1259.7,436.5 1262.5,437.3 1262.7,437.5 1265.7,436.2 1268.7,434.3 1271.7,433.3 1272.0,432.6 1274.7,432.8 1277.7,435.3 1280.7,436.7 1281.5,437.3 1283.7,437.6 1286.7,437.0 1289.7,437.2 1292.7,439.1 1295.7,438.9 1295.7,439.7 1298.7,440.1 1301.7,446.2 1303.6,445.2 1304.7,444.0 1307.7,440.4 1309.9,438.9 1310.7,439.5 1313.7,440.9 1316.7,443.7 1319.3,443.6 1319.7,442.6 1322.7,444.6 1325.7,443.4 1328.7,443.1 1331.7,441.7 1334.7,443.7 1335.1,443.6 1337.7,445.7 1340.7,447.5 1343.7,450.0 1346.2,451.5 1346.7,452.8 1349.7,450.7 1352.7,450.5 1355.7,446.9 1357.2,446.8 1358.7,439.3 1360.4,429.4 1361.7,424.0 1364.7,413.5 1365.1,410.5 1367.7,423.8 1368.2,426.3 1370.7,434.9 1373.0,442.0 1373.7,444.5 1376.1,461.0 1376.7,462.2 1379.7,467.6 1382.7,472.4 1384.0,475.2 1385.7,472.5 1388.7,472.0 1391.7,470.2 1394.7,469.2 1395.1,468.9 1397.7,441.6 1398.2,437.3 1400.7,422.9 1403.0,412.1 1403.7,412.8 1406.7,422.6 1407.7,424.7 1409.7,426.9 1412.7,435.0 1414.0,437.3 1415.7,444.6 1417.2,453.1 1418.7,455.2 1421.7,456.4 1423.5,459.4 1424.7,467.8 1426.6,481.5 1427.7,491.8 1429.8,513.1 1430.7,520.2 1433.7,539.1 1434.5,544.6 1436.7,535.4 1439.2,525.7 1439.7,523.1 1442.7,502.6 1443.9,497.3 1445.7,492.5 1448.7,484.7 1448.7,486.1 1451.7,481.0 1454.7,477.3 1457.7,473.3 1458.2,473.6 1460.7,470.7 1463.7,467.9 1464.5,467.3 1466.7,467.4 1469.2,467.3 1469.7,466.7 1472.7,467.3 1475.7,464.5 1477.4,465.5 1478.7,466.8 1481.7,466.8 1484.7,469.4 1486.8,469.4 1487.7,470.3 1490.7,470.7 1493.7,471.5 1496.7,471.0 1499.4,474.2 1499.7,476.0 1502.7,476.2 1505.7,478.6 1508.7,479.2 1510.5,480.5 1511.7,479.8 1514.7,480.4 1517.7,482.7 1520.7,483.5 1523.7,484.8 1526.3,484.4 1526.7,483.9 1529.7,487.7 1532.7,491.3 1534.2,493.1 1535.7,494.7 1538.7,495.5 1541.7,497.2 1544.7,496.8 1545.2,497.8 1547.7,503.5 1549.9,508.9 1550.7,511.2 1553.7,511.6 1556.7,511.7 1559.7,514.5 1561.0,515.2 1562.7,517.3 1565.7,521.0 1568.7,523.6 1568.9,524.7 1571.7,527.5 1574.7,528.9 1577.7,531.8 1579.9,534.1 1580.7,534.2 1583.7,536.0 1586.7,537.9 1589.7,540.5 1592.5,540.4 1592.7,538.9 1595.7,542.9 1598.7,541.7 1598.8,542.0 1601.7,545.1 1604.7,547.8 1606.7,549.9 1607.7,552.3 1610.7,551.5 1613.7,552.6 1616.7,555.5 1617.8,554.6 1619.7,555.7 1622.7,556.9 1625.7,559.7 1628.7,560.5 1630.4,561.0 1631.7,561.0 1634.7,560.8 1637.7,563.1 1640.7,564.4 1641.4,564.1 1643.7,566.0 1646.7,566.4 1649.7,567.6 1652.7,569.3 1654.1,568.8 1655.7,572.6 1658.7,570.2 1661.7,570.8 1664.7,571.0 1665.1,572.0 1667.7,570.8 1670.7,569.1 1673.7,567.6 1676.2,567.3 1676.7,566.4 1679.7,568.6 1682.7,567.7 1684.0,568.8 1685.7,569.4 1688.7,563.9 1691.7,565.0 1694.7,564.1 1696.7,562.5 1697.7,561.0 1700.7,560.2 1703.7,558.7 1706.7,554.7 1707.7,556.2 1709.7,556.2 1712.7,552.4 1715.7,553.1 1718.7,552.1 1718.8,551.5 1721.7,550.7 1724.7,552.4 1727.7,551.2 1728.2,551.5 1730.7,550.0 1733.7,549.4 1736.7,545.2 1739.7,544.0 1740.8,543.6 1742.7,544.1 1745.7,543.4 1748.7,543.1 1751.7,543.4 1751.9,543.6 1754.7,535.4 1756.6,531.0 1757.7,535.0 1760.7,543.7 1762.2,548.7 1762.9,553.0 1763.7,549.9 1765.2,543.9 1766.7,535.6 1767.7,532.6 1768.2,533.3 1769.7,531.8 1771.2,537.7 1772.7,536.8 1774.2,537.4 1775.6,540.4 1775.7,542.3 1777.2,539.8 1778.7,535.5 1780.2,532.8 1781.7,525.6 1781.9,527.8 1783.2,526.1 1784.7,526.5 1785.6,524.7 1786.2,523.4 1787.7,525.9 1789.2,533.8 1790.7,533.4 1791.3,535.7 1792.2,535.8 1792.3,533.6 1793.7,524.3 1794.5,514.7 1795.2,517.9 1796.1,518.4 1796.7,522.1 1798.2,538.5 1798.4,542.5 1799.7,527.9 1801.2,517.9 1802.3,504.6 1802.7,504.1 1804.2,504.3 1805.7,504.1 1807.2,502.4 1807.8,504.6 1808.7,514.5 1810.2,526.2 1810.6,530.3 1811.7,519.5 1813.2,510.5 1814.7,502.6 1815.6,493.5 1816.2,493.2 1817.7,503.7 1819.2,505.2 1820.1,511.3 1820.7,508.6 1822.2,501.3 1823.7,492.0 1824.5,490.2 1825.2,488.5 1826.7,495.1 1828.2,497.1 1829.7,496.8 1831.2,498.5 1832.7,501.4 1833.5,504.6 1834.2,496.0 1835.7,483.5 1835.7,482.5 1837.2,485.0 1838.7,489.6 1840.1,489.0 1840.2,488.7 1841.7,487.6 1843.2,479.9 1844.7,479.8 1845.7,474.6 1846.2,472.7 1847.7,475.8 1849.2,480.8 1850.7,484.0 1851.3,482.4 1852.2,485.8 1853.7,488.9 1855.2,492.3 1855.7,492.4 1856.7,486.0 1858.2,475.3 1859.7,472.3 1860.2,466.8 1861.2,472.3 1862.7,475.2 1864.2,483.9 1865.7,488.6 1866.9,495.7 1867.2,489.9 1868.7,475.0 1869.1,466.8 1870.2,466.4 1871.7,466.6 1873.2,465.1 1874.7,462.3 1874.7,461.2 1876.2,461.1 1877.7,456.6 1879.2,457.0 1880.2,456.8 1880.7,454.7 1882.2,458.1 1883.7,456.5 1885.2,452.4 1886.7,454.9 1888.0,452.3 1888.2,453.3 1889.7,459.1 1891.2,462.2 1891.4,462.3 1892.7,462.8 1894.2,461.4 1895.7,461.5 1897.2,459.7 1898.0,457.9 1898.7,461.1 1900.2,462.1 1901.7,466.3 1903.2,467.3 1904.7,469.0 1904.7,468.4 1906.2,467.7 1907.7,460.1 1909.2,459.0 1909.2,459.1 1910.7,459.0 1912.2,457.6 1913.7,458.3 1915.2,455.9 1916.7,452.5 1918.2,452.2 1919.2,452.3 1919.7,456.9 1921.2,464.0 1922.7,472.8 1923.7,476.8 1924.2,473.1 1925.7,470.5 1927.2,463.5 1928.1,462.3 1928.7,459.8 1930.2,461.4 1931.7,462.3 1933.2,459.0 1934.7,456.9 1936.2,458.3 1937.7,455.5 1938.1,456.8 1939.2,455.7 1940.7,454.5 1942.2,456.1 1943.7,457.8 1945.2,454.4 1946.7,456.3 1947.1,456.8 1948.2,458.6 1949.7,465.4 1951.2,468.0 1951.5,470.1 1952.7,469.3 1954.2,464.8 1955.7,457.6 1956.0,457.9 1957.2,458.1 1958.7,454.9 1960.2,453.7 1961.7,456.3 1963.2,452.2 1964.7,451.2 1966.2,450.5 1967.1,451.2 1967.7,456.0 1969.2,464.1 1969.3,464.5 1970.7,455.1 1971.6,449.0 1972.2,447.7 1973.7,451.4 1975.2,449.0 1976.7,447.0 1978.2,450.0 1979.7,450.3 1980.5,449.0 1981.2,450.6 1982.7,453.7 1984.2,455.1 1985.7,459.1 1986.0,459.0 1987.2,457.0 1988.7,459.4 1990.2,459.1 1991.7,459.7 1993.2,456.7 1993.8,457.9 1994.7,455.0 1996.2,454.3 1997.7,453.2 1999.2,452.5 2000.7,453.3 2002.2,453.8 2002.7,451.2 2003.7,450.2 2005.2,453.8 2006.1,454.5" fill="none" stroke="#0070C0" stroke-width="6.8" stroke-linejoin="miter" stroke-miterlimit="3" />
<polyline points="116.0,1000.0 116.7,1016.9 119.5,1085.0 119.7,1080.5 122.7,1018.7 123.0,1012.0 125.7,988.4 126.0,985.0 128.7,946.7 129.3,940.0 131.7,929.9 132.3,927.0 134.7,923.5 135.3,922.0 136.5,890.5 137.7,906.8 139.2,925.0 140.7,893.7 141.8,869.3 143.7,858.1 145.8,842.8 146.7,841.5 149.7,837.1 151.0,834.8 152.7,809.3 153.7,797.8 155.7,787.1 158.7,767.4 159.0,766.0 161.7,744.8 161.7,744.8 164.3,717.0 164.7,711.9 167.0,689.0 167.7,684.6 170.7,670.2 171.7,665.0 173.7,646.0 176.0,621.7 176.7,617.2 179.7,600.8 180.3,595.7 182.7,576.1 183.6,567.5 185.7,562.2 188.7,558.1 189.0,556.7 191.7,541.5 193.3,535.0 194.7,532.8 197.7,526.7 200.7,522.7 202.0,517.7 203.7,515.1 205.3,513.3 206.0,487.3 206.7,482.4 208.5,470.0 209.7,457.5 211.8,437.5 212.7,430.5 215.0,413.7 215.7,411.4 218.7,393.3 219.3,389.8 221.4,368.8 221.7,366.6 224.4,353.7 224.7,353.2 227.7,340.0 228.9,335.7 230.4,317.6 230.7,315.6 233.4,305.6 233.7,306.5 236.7,304.0 237.9,302.6 239.7,295.1 240.9,290.5 242.7,286.1 245.5,283.0 245.7,284.0 248.7,275.9 250.0,272.4 251.7,269.4 254.7,264.1 257.5,258.9 257.7,260.3 260.7,254.5 263.7,250.8 265.0,248.4 266.7,237.2 268.0,230.3 269.7,227.8 272.6,225.8 272.7,224.7 275.7,229.7 278.6,233.3 278.7,235.7 281.7,234.4 284.7,235.0 286.0,234.8 287.7,229.4 290.6,219.8 290.7,220.4 293.7,222.0 296.7,220.6 299.6,222.8 299.7,223.0 302.7,213.5 304.2,210.7 305.7,211.6 308.7,210.4 311.7,212.2 311.7,211.5 314.7,200.2 314.7,199.9 317.7,200.1 320.7,197.6 323.7,198.7 323.7,201.0 326.7,199.4 329.7,199.9 332.7,200.7 332.8,201.7 335.7,200.0 338.7,193.9 338.8,194.2 341.7,195.1 344.7,195.8 347.7,196.1 350.7,195.7 353.7,198.0 353.8,197.2 356.7,201.5 358.3,203.2 359.7,191.7 361.3,179.1 362.7,184.8 365.7,189.5 368.7,194.9 371.7,203.7 373.4,206.2 374.7,203.9 377.7,194.5 380.7,187.2 382.4,182.1 383.7,182.7 386.7,188.5 389.7,190.5 392.7,196.8 395.7,200.0 398.7,202.0 399.0,203.2 401.7,199.4 404.7,194.0 407.7,188.8 410.7,185.3 412.5,180.6 413.7,179.9 416.7,180.3 419.7,181.0 420.0,181.0 422.7,178.1 425.7,175.0 426.3,174.7 428.7,173.6 429.0,173.1 431.0,173.9 431.7,176.5 434.7,180.4 435.8,178.7 437.7,176.2 440.5,171.6 440.7,171.4 443.7,172.0 446.7,171.8 448.4,171.6 449.7,171.1 452.7,165.6 453.1,165.2 455.7,167.5 458.7,169.7 461.0,169.2 461.7,168.1 464.7,171.8 467.3,173.1 467.7,172.8 470.7,175.0 473.6,175.5 473.7,175.0 476.7,173.7 479.7,174.9 480.0,173.9 482.7,180.5 483.1,181.0 485.7,181.5 488.7,183.1 489.4,184.2 491.7,182.0 494.2,179.4 494.7,180.2 497.7,185.1 498.9,185.8 500.7,190.3 502.0,195.2 502.2,193.0 503.7,198.2 505.2,197.2 506.7,196.8 508.2,201.8 508.4,200.0 509.7,202.2 511.2,206.1 512.7,207.7 513.1,206.3 514.2,212.7 515.7,218.9 516.2,218.9 517.2,219.1 518.7,222.2 520.2,221.1 521.0,222.0 521.7,221.8 523.2,216.9 524.7,212.7 525.0,211.0 526.2,213.5 527.7,220.0 528.9,223.6 529.2,223.5 530.7,224.7 532.2,223.8 533.7,220.2 535.2,220.5 536.7,220.4 536.8,220.5 538.2,221.4 539.7,218.4 541.2,220.2 542.7,221.2 544.2,220.6 545.7,221.1 546.2,218.9 547.2,220.8 548.7,222.4 550.2,225.0 551.7,224.4 553.2,228.9 553.3,228.4 554.7,225.8 556.2,225.0 557.7,222.2 558.8,220.5 559.2,220.2 560.7,215.5 562.2,210.0 563.6,206.3 563.7,205.0 565.2,205.4 566.7,201.1 568.2,197.3 568.3,198.4 569.7,202.8 571.2,206.8 572.3,209.4 572.7,210.6 574.2,207.7 575.7,203.3 577.2,201.2 577.8,201.5 578.7,205.9 580.2,205.8 581.0,209.4 581.7,210.3 583.2,206.9 584.7,203.9 585.7,201.5 586.2,202.6 587.7,201.0 589.2,206.5 590.7,205.3 592.0,206.3 592.2,210.0 593.6,225.2 593.7,226.9 595.2,222.4 596.7,220.9 598.2,222.5 599.7,220.0 601.2,217.0 601.4,217.3 602.7,220.3 604.2,217.3 605.7,220.6 607.2,217.9 607.8,220.5 608.7,221.5 610.2,226.9 611.7,227.4 612.5,228.4 613.2,236.9 614.1,242.6 614.7,244.2 616.2,250.3 617.7,255.4 618.8,256.8 619.2,253.5 620.7,249.3 622.2,238.8 623.5,234.7 623.7,236.5 625.2,239.7 626.7,242.2 628.2,241.8 628.3,244.1 629.7,241.7 631.2,236.1 632.7,229.7 633.0,228.4 634.2,236.5 635.7,241.7 637.2,251.4 637.7,253.6 638.7,251.9 640.2,248.6 641.7,244.6 643.2,237.7 644.0,236.2 644.7,240.6 646.2,248.2 647.7,256.0 648.8,259.9 649.2,256.0 650.7,252.3 652.2,245.7 653.5,239.4 653.7,239.5 655.2,243.4 656.7,244.4 658.2,246.7 659.7,249.5 659.8,247.3 661.2,243.4 662.7,244.4 664.2,241.5 665.7,235.9 666.1,236.2 667.2,236.6 668.7,236.8 670.2,235.7 671.7,233.8 672.4,233.1 673.2,232.7 674.7,237.8 676.2,239.9 677.7,240.7 678.8,242.6 679.2,240.6 680.7,241.7 682.2,241.0 683.7,239.7 685.2,237.8 686.7,238.2 688.2,237.8 688.2,238.8 689.7,241.5 691.2,251.6 691.4,250.4 692.7,245.3 694.2,242.0 695.7,233.8 697.2,227.8 697.7,226.8 698.7,229.3 700.2,236.3 701.7,247.0 702.4,248.9 703.2,243.6 704.7,239.8 706.2,231.6 707.7,227.3 708.7,222.0 709.2,222.5 710.7,222.7 712.2,224.7 713.7,225.3 715.2,227.1 716.6,228.4 716.7,225.6 718.2,214.2 718.2,214.1 719.7,211.1 721.2,205.6 723.0,200.0 724.2,203.2 727.2,212.5 727.7,212.6 730.2,203.3 733.2,194.6 734.0,192.1 736.2,188.0 739.2,185.3 740.3,182.6 742.2,190.4 745.0,201.5 745.2,200.0 748.2,185.8 748.2,185.5 750.0,188.9 751.2,190.7 754.2,191.5 756.1,192.1 756.3,193.6 757.2,191.9 759.5,185.8 760.0,184.2 760.2,185.1 763.2,192.9 766.2,199.5 766.6,200.0 768.9,184.2 769.2,183.7 772.2,179.9 775.2,179.4 775.2,180.4 778.2,190.0 778.4,190.5 781.2,186.7 784.2,183.8 784.7,182.6 787.2,181.6 790.2,180.9 793.2,180.4 794.2,179.4 796.2,182.1 798.9,187.3 799.2,186.8 802.2,183.8 805.2,181.0 805.2,182.1 808.2,184.4 808.4,185.8 811.2,182.4 814.2,178.2 816.3,176.3 817.2,179.2 819.4,187.3 820.2,185.1 823.2,182.4 824.2,181.0 826.2,180.1 829.2,179.8 832.2,181.0 835.2,179.4 835.2,178.0 838.2,180.9 841.2,182.4 841.5,181.8 844.2,179.2 847.2,181.0 850.2,179.3 851.0,179.4 853.2,177.9 856.2,178.3 859.2,176.9 860.4,176.3 862.2,180.4 865.2,184.2 865.2,183.4 868.2,181.6 871.2,183.2 874.2,178.7 874.6,179.4 877.2,179.6 880.2,181.0 883.2,182.8 884.1,183.4 886.2,182.1 889.2,183.8 892.2,183.7 895.2,182.6 898.2,181.9 898.3,182.6 901.2,185.0 903.0,187.3 904.2,186.1 907.2,185.1 910.2,184.1 912.5,182.6 913.2,182.9 916.2,187.7 917.2,188.1 919.2,186.4 922.2,188.1 925.2,186.8 928.2,187.4 931.2,186.4 934.2,185.3 936.2,185.8 937.2,184.5 940.2,186.6 943.2,186.9 946.2,186.4 949.2,186.1 952.0,187.3 952.2,186.2 955.2,190.0 958.2,190.1 959.9,190.5 961.2,190.7 964.2,191.7 967.2,190.0 970.2,190.8 973.2,189.4 974.0,190.5 976.2,190.3 979.2,186.3 982.2,186.5 983.5,185.8 985.2,185.7 988.2,188.5 989.8,190.5 991.2,190.3 994.2,190.9 997.2,192.5 1000.2,191.5 1003.2,191.4 1006.2,190.8 1008.8,190.5 1009.2,190.3 1012.2,190.6 1015.2,190.9 1018.2,189.2 1021.2,191.7 1024.2,189.7 1026.1,190.5 1027.2,190.4 1030.2,187.8 1033.2,189.5 1036.2,189.7 1039.2,191.1 1042.2,189.7 1045.2,189.8 1048.2,188.3 1049.8,189.7 1051.2,190.7 1054.2,196.5 1054.5,195.2 1057.2,197.8 1059.2,201.5 1060.2,203.2 1063.2,207.8 1064.0,209.4 1066.2,216.6 1067.1,218.9 1069.2,217.9 1070.0,217.8 1070.3,231.5 1072.2,232.4 1072.4,232.0 1073.5,242.6 1075.2,240.7 1076.3,240.0 1078.2,245.7 1078.2,246.6 1081.2,263.0 1081.8,266.8 1084.2,247.8 1084.2,247.4 1087.2,241.8 1088.1,241.5 1090.2,258.7 1090.5,263.6 1093.2,288.5 1093.7,292.0 1096.2,273.1 1096.8,269.9 1099.2,244.7 1099.2,244.0 1101.6,228.9 1102.2,223.7 1103.9,210.0 1105.2,203.8 1107.1,192.6 1108.2,191.4 1111.0,189.4 1111.2,189.1 1114.2,192.1 1117.2,190.9 1120.2,194.6 1120.5,194.2 1123.2,191.2 1126.2,190.5 1128.4,188.7 1129.2,189.2 1132.2,190.3 1135.2,189.9 1138.2,192.5 1141.0,193.4 1141.2,193.1 1144.2,192.5 1147.2,192.4 1150.2,193.9 1153.2,194.2 1156.2,192.3 1156.8,191.8 1159.2,195.8 1160.0,197.3 1162.2,196.0 1165.2,194.4 1167.8,194.2 1168.2,196.5 1171.2,196.5 1174.1,197.3 1174.2,197.7 1177.2,197.9 1180.2,196.6 1183.2,195.2 1183.6,195.0 1186.2,195.1 1189.2,197.4 1192.2,196.6 1193.1,198.1 1195.2,198.5 1198.2,197.1 1201.0,197.3 1201.2,197.9 1204.2,200.6 1207.2,202.8 1207.3,203.6 1210.2,201.5 1213.2,201.4 1216.2,203.6 1219.2,201.6 1219.9,200.5 1222.2,201.3 1225.2,204.0 1227.8,203.6 1228.2,205.0 1231.2,203.8 1234.2,203.9 1235.7,204.4 1237.2,204.2 1238.8,208.4 1240.2,207.9 1243.2,207.6 1246.2,205.8 1249.2,208.3 1252.2,209.2 1255.2,207.0 1256.2,207.6 1258.2,210.4 1261.2,213.7 1262.5,213.1 1264.2,214.0 1267.2,209.4 1268.8,207.6 1270.2,207.7 1273.2,208.5 1276.2,210.5 1279.2,212.9 1281.4,211.5 1282.2,213.1 1285.2,215.2 1288.2,213.2 1291.2,215.0 1294.0,213.9 1294.2,214.1 1297.2,214.4 1300.2,215.4 1303.2,213.8 1306.2,215.1 1306.7,215.5 1309.2,215.8 1312.2,216.9 1315.2,221.5 1318.2,222.2 1319.3,222.6 1321.2,222.7 1324.2,221.9 1327.2,223.4 1330.2,220.9 1333.2,223.0 1336.2,223.3 1338.2,222.6 1339.2,221.7 1342.2,223.3 1345.2,220.1 1348.2,220.7 1351.2,220.9 1354.0,221.0 1354.2,220.6 1357.2,218.9 1360.2,219.0 1363.2,218.8 1363.5,217.8 1366.2,220.9 1369.2,226.7 1369.8,228.9 1372.2,228.1 1375.2,226.0 1378.2,225.4 1379.2,224.2 1381.2,224.2 1384.2,224.9 1387.2,223.4 1390.2,224.9 1391.9,225.0 1393.2,226.2 1396.2,228.3 1399.2,228.5 1399.8,228.9 1402.2,233.3 1405.2,238.7 1406.1,241.5 1407.9,240.0 1408.2,240.1 1411.2,239.7 1414.2,239.4 1415.8,240.0 1417.2,239.8 1420.2,240.3 1423.2,238.4 1426.2,237.2 1428.4,236.8 1429.2,238.1 1432.2,234.2 1435.2,234.3 1437.9,232.1 1438.2,233.7 1441.0,246.3 1441.2,245.6 1444.2,245.5 1447.2,248.0 1450.2,247.3 1453.2,248.8 1453.6,247.8 1456.2,248.9 1459.2,250.9 1462.2,251.1 1463.1,252.6 1465.2,252.9 1468.2,255.0 1471.2,255.6 1474.2,255.2 1475.7,255.7 1477.2,255.9 1480.2,252.1 1482.0,251.0 1483.2,253.5 1486.2,255.6 1488.4,258.9 1489.2,259.1 1492.2,257.7 1495.2,259.4 1498.2,258.9 1501.0,258.9 1501.2,259.8 1504.2,259.0 1507.2,259.7 1510.2,262.6 1513.2,260.5 1513.6,263.6 1516.2,263.6 1519.2,263.5 1522.2,264.3 1525.2,265.7 1526.2,266.0 1528.2,265.0 1531.2,268.1 1534.2,267.3 1535.7,268.4 1537.2,268.8 1540.2,267.2 1543.2,266.7 1546.2,267.1 1546.7,266.0 1549.2,271.8 1549.9,273.1 1552.2,272.9 1555.2,272.3 1558.2,270.7 1561.2,269.5 1564.2,271.7 1565.7,269.9 1567.2,273.8 1570.2,273.1 1570.4,274.7 1573.2,275.5 1576.2,273.6 1576.7,271.5 1579.2,274.4 1582.2,272.3 1585.2,273.1 1588.2,270.6 1591.2,274.8 1594.2,272.8 1597.2,273.9 1597.2,274.9 1600.2,275.3 1603.2,276.3 1606.2,277.0 1608.3,277.8 1609.2,277.9 1612.2,277.2 1615.2,277.0 1618.2,274.5 1620.9,276.2 1621.2,276.6 1624.2,275.6 1627.2,276.7 1630.2,278.3 1633.2,280.6 1636.2,280.4 1636.7,281.0 1639.2,280.5 1642.2,280.6 1645.2,279.7 1648.2,279.8 1651.2,280.5 1652.4,279.4 1654.2,281.2 1657.2,279.6 1660.2,283.2 1663.2,284.6 1665.1,284.1 1666.2,282.7 1669.2,284.4 1672.2,286.8 1675.2,286.6 1678.2,287.9 1679.3,287.3 1681.2,286.6 1684.0,281.0 1684.2,280.5 1687.2,279.5 1690.2,280.0 1693.2,279.4 1696.2,279.6 1699.2,281.1 1699.8,279.4 1702.2,278.8 1705.2,277.8 1708.2,278.4 1711.2,279.7 1714.2,279.1 1715.6,279.4 1717.2,280.0 1720.2,280.7 1723.2,281.2 1726.2,280.5 1729.2,279.9 1730.0,281.0 1732.2,280.9 1735.2,280.1 1738.2,281.2 1741.2,279.7 1744.2,280.5 1745.0,279.5 1747.2,277.7 1750.2,279.1 1753.2,277.2 1756.2,277.1 1758.0,277.5 1759.2,278.1 1762.0,280.0 1762.2,279.7 1764.0,286.0 1765.2,282.3 1766.0,278.0 1768.2,277.5 1771.2,277.8 1774.2,277.6 1777.2,277.8 1780.0,276.0 1780.2,275.3 1783.2,276.4 1786.2,275.7 1789.2,276.0 1792.2,273.5 1793.0,275.0 1795.2,270.5 1796.7,270.5 1798.2,270.4 1799.6,267.5 1799.7,267.3 1801.2,259.1 1802.7,253.4 1803.8,248.0 1804.2,249.6 1805.7,250.8 1807.2,252.4 1808.7,255.0 1810.2,260.0 1810.7,260.5 1811.7,257.6 1813.2,247.6 1814.7,239.6 1815.6,236.8 1816.2,237.0 1817.7,239.9 1819.2,239.2 1820.7,239.2 1821.9,241.0 1822.2,239.9 1823.7,237.6 1825.2,229.7 1826.1,228.5 1826.7,230.5 1828.2,230.0 1829.7,230.0 1831.2,232.5 1832.7,235.5 1834.2,234.0 1834.4,235.4 1835.7,234.8 1837.2,230.0 1838.7,229.4 1840.2,223.4 1841.4,222.9 1841.7,222.1 1843.2,216.2 1844.7,210.3 1845.6,209.0 1846.2,206.4 1847.7,205.9 1848.3,203.4 1849.2,205.4 1850.7,205.3 1852.2,205.9 1853.7,208.4 1855.2,211.1 1855.3,210.4 1856.7,208.7 1858.2,204.8 1859.5,200.6 1859.7,202.3 1861.2,207.3 1862.7,212.1 1863.6,217.3 1864.2,214.3 1865.7,207.9 1867.2,204.3 1867.8,200.6 1868.7,197.5 1870.2,190.6 1870.6,190.9 1871.7,188.5 1873.2,190.0 1874.7,190.3 1876.2,191.7 1877.6,190.9 1877.7,189.7 1879.2,190.6 1880.7,186.2 1882.2,184.9 1883.1,186.7 1883.7,186.7 1885.2,187.2 1886.7,186.7 1888.2,189.5 1889.7,190.2 1891.2,192.9 1891.5,190.9 1892.7,189.5 1894.2,191.5 1895.7,189.6 1897.2,189.9 1898.7,186.8 1900.0,188.0 1900.2,187.0 1901.7,187.9 1903.2,190.3 1904.7,188.8 1906.2,188.9 1907.7,185.4 1909.2,185.7 1910.7,186.7 1912.2,186.3 1913.7,188.0 1915.0,187.5 1915.2,186.0 1916.7,184.8 1918.2,189.5 1919.7,186.9 1921.2,186.2 1922.7,186.2 1924.2,185.8 1925.7,187.1 1927.2,185.1 1928.7,186.3 1930.0,186.5 1930.2,188.5 1931.7,187.8 1933.2,188.8 1934.7,187.0 1936.2,188.2 1937.7,185.8 1939.2,186.2 1940.7,187.0 1942.2,184.9 1943.7,187.3 1945.0,186.0 1945.2,186.6 1946.7,188.5 1948.2,184.7 1949.7,187.3 1951.2,188.2 1952.7,183.0 1954.2,183.5 1955.7,187.8 1957.2,187.0 1958.7,184.8 1960.0,185.0 1960.2,185.6 1961.7,183.0 1963.2,185.4 1964.7,184.3 1966.2,183.1 1967.7,184.0 1969.2,183.0 1970.7,183.3 1972.2,186.7 1973.7,186.2 1975.0,185.0 1975.2,183.6 1976.7,186.7 1978.2,186.4 1979.7,184.7 1981.2,186.6 1982.7,184.7 1984.2,186.1 1985.7,186.7 1987.2,186.7 1988.7,184.6 1990.0,184.5 1990.2,186.4 1991.7,183.2 1993.2,182.7 1994.7,184.4 1996.2,182.5 1997.7,186.0 1999.2,183.4 2000.7,181.2 2002.2,184.2 2003.7,182.5 2005.2,180.9 2006.0,183.0" fill="none" stroke="#000000" stroke-width="6.8" stroke-linejoin="miter" stroke-miterlimit="3" />
</g>
<clipPath id="pc"><rect x="112" y="32" width="1952" height="1386"/></clipPath>
<rect x="112" y="32" width="6" height="1389.5" fill="#878787"/>
<rect x="118" y="32" width="1946" height="6.5" fill="#000"/>
<rect x="2058" y="32" width="6" height="1389.5" fill="#000"/>
<rect x="112" y="1415.5" width="1952" height="6" fill="#000"/>
<rect x="112" y="1416" width="6" height="21" fill="#000"/>
<rect x="390" y="1416" width="6" height="21" fill="#000"/>
<rect x="668" y="1416" width="6" height="21" fill="#000"/>
<rect x="946" y="1416" width="6" height="21" fill="#000"/>
<rect x="1224" y="1416" width="6" height="21" fill="#000"/>
<rect x="1502" y="1416" width="6" height="21" fill="#000"/>
<rect x="1780" y="1416" width="6" height="21" fill="#000"/>
<rect x="2058" y="1416" width="6" height="21" fill="#000"/>
<g font-family="Liberation Sans, Arial, sans-serif" font-size="67" fill="#000">
<text x="115" y="1518.6" text-anchor="middle">600</text>
<text x="393" y="1518.6" text-anchor="middle">1100</text>
<text x="671" y="1518.6" text-anchor="middle">1600</text>
<text x="949" y="1518.6" text-anchor="middle">2100</text>
<text x="1227" y="1518.6" text-anchor="middle">2600</text>
<text x="1505" y="1518.6" text-anchor="middle">3100</text>
<text x="1783" y="1518.6" text-anchor="middle">3600</text>
<text x="2061" y="1518.6" text-anchor="middle">4100</text>
</g>
<g font-family="Liberation Sans, Arial, sans-serif" font-size="64" fill="#000">
<text x="1913" y="115.5">ZrO<tspan font-size="39" dy="16">2</tspan></text>
<text x="1762" y="363.6" letter-spacing="-0.3">TiO<tspan font-size="39" dy="16">2</tspan><tspan dy="-16">-ZrO</tspan><tspan font-size="39" dy="16">2</tspan></text>
<text x="1756.5" y="620.4" letter-spacing="-0.4">ZrO<tspan font-size="39" dy="16">2</tspan><tspan dy="-16">-TiO</tspan><tspan font-size="39" dy="16">2</tspan></text>
<text x="1903" y="870.5">TiO<tspan font-size="39" dy="16">2</tspan></text>
</g>
<g font-family="Liberation Sans, Arial, sans-serif" font-size="65" fill="#000" stroke="#000" stroke-width="2.2" stroke-linejoin="round">
<text x="783" y="1625" textLength="417" lengthAdjust="spacing">Wavenumber</text>
<text x="1213" y="1625" stroke-width="0.6">(</text>
<text x="1237" y="1625" textLength="93" lengthAdjust="spacing">cm</text>
<text x="1332" y="1604" font-size="42" stroke-width="1.6">−</text>
<text x="1357" y="1606" font-size="42" stroke-width="0">1</text>
<text x="1384" y="1625" stroke-width="0.6">)</text>
<text transform="translate(75,1017.5) rotate(-90)" x="0" y="0" textLength="603" lengthAdjust="spacing">Transmitance (a.u.)</text>
</g>
</svg></body></html>
